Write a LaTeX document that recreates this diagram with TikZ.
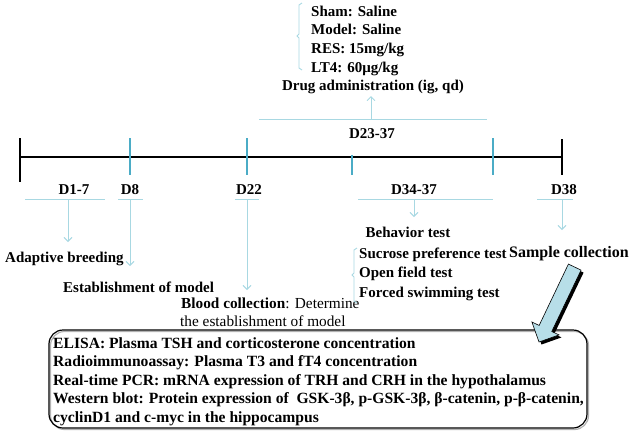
\documentclass[tikz,border=0pt]{standalone}
\usepackage{fontspec}
\setmainfont{Liberation Serif}
\usetikzlibrary{arrows.meta}
\definecolor{lb}{HTML}{A8D8E2}
\definecolor{tk}{HTML}{4BACC6}
\definecolor{af}{HTML}{B7DEE8}
\begin{document}
\begin{tikzpicture}[x=1pt,y=-1pt,
  lbl/.style={font=\fontsize{15}{18}\selectfont\bfseries, inner sep=0pt},
  boxtxt/.style={font=\fontsize{15.6}{18}\selectfont\bfseries, inner sep=0pt},
  reg/.style={font=\fontsize{15.3}{18}\selectfont, inner sep=0pt},
  brk/.style={draw=lb, line width=0.9pt},
  arr/.style={draw=lb, line width=0.9pt, -{Straight Barb[length=4pt,width=8pt]}},
  tickmark/.style={draw=tk, line width=1.2pt},
  bigarrow/.style={fill=af, draw=black, line width=0.6pt}]
\useasboundingbox (0,0) rectangle (641,432);

% timeline
\coordinate (tl) at (20,157);
\coordinate (tr) at (562,157);
\draw[line width=2.2pt] (tl) -- (tr);
\draw[line width=2pt] (20,138) -- (20,182);
\draw[line width=2pt] (562,139) -- (562,175);
\draw[tickmark] (130,138) -- (130,175);
\draw[tickmark] (247,138) -- (247,175);
\draw[tickmark] (352,155) -- (352,175);
\draw[tickmark] (493,138) -- (493,175);

% day labels
\node[lbl, anchor=base] (d17) at (74,194) {D1-7};
\node[lbl, anchor=base] (d8) at (130,194) {D8};
\node[lbl, anchor=base] (d22) at (249,194) {D22};
\node[lbl, anchor=base] (d2337) at (372,138) {D23-37};
\node[lbl, anchor=base] (d3437) at (414,194) {D34-37};
\node[lbl, anchor=base] (d38) at (564,194) {D38};

% brackets
\draw[brk] (25,199) -- (105,199);
\draw[brk] (118,199) -- (143,199);
\draw[brk] (235,199) -- (259,199);
\draw[brk] (358,199) -- (493,199);
\draw[brk] (537,199) -- (573,199);
\draw[brk] (259,119) -- (487,119);

% event labels
\node[lbl, anchor=base west] (adapt) at (5,262) {Adaptive breeding};
\node[lbl, anchor=base west] (estab) at (63,292) {Establishment of model};
\node[reg, anchor=base west] (blood) at (181,308) {\textbf{Blood collection}:\hspace{0.35em}Determine};
\node[reg, anchor=base west] (blood2) at (180,326) {the establishment of model};
\node[lbl, anchor=base] (behav) at (408,237) {Behavior test};
\node[lbl, anchor=base west] (suc) at (359,258) {Sucrose preference test};
\node[lbl, anchor=base west] (open) at (359,277) {Open field test};
\node[lbl, anchor=base west] (forced) at (359,297) {Forced swimming test};
\node[lbl, font=\fontsize{16}{18}\selectfont\bfseries, anchor=base west] (sample) at (509,257) {Sample collection};
\node[lbl, anchor=base] (drug) at (373,90) {Drug administration (ig, qd)};
\node[lbl, anchor=base west] (sham) at (311,16) {Sham: Saline};
\node[lbl, anchor=base west] (model) at (311,34) {Model: Saline};
\node[lbl, anchor=base west] (res) at (311,53) {RES: 15mg/kg};
\node[lbl, anchor=base west] (lt4) at (311,72) {LT4: 60μg/kg};

% arrows from brackets
\coordinate (a1s) at (68,199);  \coordinate (a1e) at (68,242);
\coordinate (a2s) at (130,199); \coordinate (a2e) at (130,266);
\coordinate (a3s) at (247,199); \coordinate (a3e) at (247,290);
\coordinate (a4s) at (414,199); \coordinate (a4e) at (414,217);
\coordinate (a5s) at (562,199); \coordinate (a5e) at (562,230);
\coordinate (a6s) at (371,119); \coordinate (a6e) at (371,96);
\draw[arr] (a1s) -- (a1e);
\draw[arr] (a2s) -- (a2e);
\draw[arr] (a3s) -- (a3e);
\draw[arr] (a4s) -- (a4e);
\draw[arr] (a5s) -- (a5e);
\draw[arr] (a6s) -- (a6e);

% side brackets
\draw[brk] (302,3) -- (299,5) -- (299,34) -- (297,36) -- (299,38) -- (299,68) -- (302,70);
\draw[brk] (357,248) -- (354,250) -- (354,273) -- (352,275) -- (354,277) -- (354,301) -- (357,303);

% result box
\draw[gray!60, line width=1.2pt, rounded corners=14pt] (50.5,331.5) rectangle (588.5,429.5);
\node[draw, line width=1.2pt, rounded corners=14pt, minimum width=538pt, minimum height=98pt, inner sep=0pt] (box) at (318,379) {};
\node[boxtxt, anchor=base west] (l1) at (53,348) {ELISA: Plasma TSH and corticosterone concentration};
\node[boxtxt, anchor=base west] (l2) at (53,366.5) {Radioimmunoassay: Plasma T3 and fT4 concentration};
\node[boxtxt, anchor=base west] (l3) at (53,385) {Real-time PCR: mRNA expression of TRH and CRH in the hypothalamus};
\node[boxtxt, anchor=base west] (l4) at (53,403.5) {Western blot: Protein expression of \ GSK-3β, p-GSK-3β, β-catenin, p-β-catenin,};
\node[boxtxt, anchor=base west] (l5) at (53,422) {cyclinD1 and c-myc in the hippocampus};

% big arrow (shadow, then body)
\begin{scope}[shift={(541.5,344.5)}, rotate=244.5]
  \fill[black] (0,0) -- (-15,15) -- (-15,7) -- (-83,7) -- (-83,-7) -- (-15,-7) -- (-15,-15) -- cycle;
\end{scope}
\begin{scope}[shift={(539,342)}, rotate=244.5]
  \filldraw[bigarrow] (0,0) -- (-15,15) -- (-15,7) -- (-83,7) -- (-83,-7) -- (-15,-7) -- (-15,-15) -- cycle;
\end{scope}
\end{tikzpicture}
\end{document}
